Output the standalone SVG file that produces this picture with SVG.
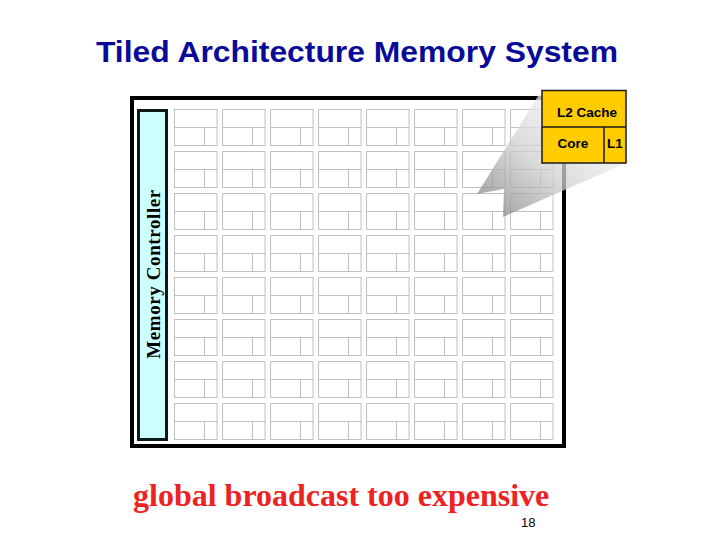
<svg xmlns="http://www.w3.org/2000/svg" xmlns:xlink="http://www.w3.org/1999/xlink" width="720" height="540" viewBox="0 0 720 540">
<style>
.tile{fill:#ffffff;stroke:#c0c0c0;stroke-width:1}
.tl{stroke:#c0c0c0;stroke-width:1}
.box{fill:#ffcc00;stroke:#1a1a1a;stroke-width:1.5}
.bt{font-family:"Liberation Sans",Arial,sans-serif;font-weight:bold;font-size:13.5px;fill:#000;text-anchor:middle}
</style>
<defs>
<g id="t">
<rect class="tile" x="0.5" y="0.5" width="42.5" height="36"/>
<line class="tl" x1="0.5" y1="18.5" x2="43" y2="18.5"/>
<line class="tl" x1="30.5" y1="18.5" x2="30.5" y2="36.5"/>
</g>
<linearGradient id="wg" gradientUnits="userSpaceOnUse" x1="500" y1="215" x2="585" y2="115">
<stop offset="0" stop-color="#8a8a8a"/>
<stop offset="0.5" stop-color="#d0d0d0"/>
<stop offset="1" stop-color="#f6f6f6"/>
</linearGradient>
</defs>
<rect width="720" height="540" fill="#ffffff"/>
<text x="96" y="62" textLength="522" lengthAdjust="spacingAndGlyphs" font-family="'Liberation Sans',Arial,sans-serif" font-weight="bold" font-size="30" fill="#0a0a99">Tiled Architecture Memory System</text>
<g id="frame">
<rect x="132" y="98" width="432" height="348" fill="#ffffff" stroke="#000000" stroke-width="4"/>
</g>
<g id="memory-controller">
<rect x="138.5" y="110.5" width="28" height="329" fill="#ccffff" stroke="#0a1a1a" stroke-width="3"/>
<text transform="translate(160,274) rotate(-90)" text-anchor="middle" font-family="'Liberation Serif','Times New Roman',serif" font-weight="bold" font-size="19" letter-spacing="0.6" fill="#000">Memory Controller</text>
</g>
<g id="tiles">
<use xlink:href="#t" x="174" y="109"/><use xlink:href="#t" x="222" y="109"/><use xlink:href="#t" x="270" y="109"/><use xlink:href="#t" x="318" y="109"/><use xlink:href="#t" x="366" y="109"/><use xlink:href="#t" x="414" y="109"/><use xlink:href="#t" x="462" y="109"/><use xlink:href="#t" x="510" y="109"/>
<use xlink:href="#t" x="174" y="151"/><use xlink:href="#t" x="222" y="151"/><use xlink:href="#t" x="270" y="151"/><use xlink:href="#t" x="318" y="151"/><use xlink:href="#t" x="366" y="151"/><use xlink:href="#t" x="414" y="151"/><use xlink:href="#t" x="462" y="151"/><use xlink:href="#t" x="510" y="151"/>
<use xlink:href="#t" x="174" y="193"/><use xlink:href="#t" x="222" y="193"/><use xlink:href="#t" x="270" y="193"/><use xlink:href="#t" x="318" y="193"/><use xlink:href="#t" x="366" y="193"/><use xlink:href="#t" x="414" y="193"/><use xlink:href="#t" x="462" y="193"/><use xlink:href="#t" x="510" y="193"/>
<use xlink:href="#t" x="174" y="235"/><use xlink:href="#t" x="222" y="235"/><use xlink:href="#t" x="270" y="235"/><use xlink:href="#t" x="318" y="235"/><use xlink:href="#t" x="366" y="235"/><use xlink:href="#t" x="414" y="235"/><use xlink:href="#t" x="462" y="235"/><use xlink:href="#t" x="510" y="235"/>
<use xlink:href="#t" x="174" y="277"/><use xlink:href="#t" x="222" y="277"/><use xlink:href="#t" x="270" y="277"/><use xlink:href="#t" x="318" y="277"/><use xlink:href="#t" x="366" y="277"/><use xlink:href="#t" x="414" y="277"/><use xlink:href="#t" x="462" y="277"/><use xlink:href="#t" x="510" y="277"/>
<use xlink:href="#t" x="174" y="319"/><use xlink:href="#t" x="222" y="319"/><use xlink:href="#t" x="270" y="319"/><use xlink:href="#t" x="318" y="319"/><use xlink:href="#t" x="366" y="319"/><use xlink:href="#t" x="414" y="319"/><use xlink:href="#t" x="462" y="319"/><use xlink:href="#t" x="510" y="319"/>
<use xlink:href="#t" x="174" y="361"/><use xlink:href="#t" x="222" y="361"/><use xlink:href="#t" x="270" y="361"/><use xlink:href="#t" x="318" y="361"/><use xlink:href="#t" x="366" y="361"/><use xlink:href="#t" x="414" y="361"/><use xlink:href="#t" x="462" y="361"/><use xlink:href="#t" x="510" y="361"/>
<use xlink:href="#t" x="174" y="403"/><use xlink:href="#t" x="222" y="403"/><use xlink:href="#t" x="270" y="403"/><use xlink:href="#t" x="318" y="403"/><use xlink:href="#t" x="366" y="403"/><use xlink:href="#t" x="414" y="403"/><use xlink:href="#t" x="462" y="403"/><use xlink:href="#t" x="510" y="403"/>
</g>
<g id="zoom-wedge">
<polygon points="540,93 477,194 504,189 503,217 626,163 560,120" fill="url(#wg)" fill-opacity="0.75"/>
</g>
<g id="tile-detail">
<rect class="box" x="542" y="90.5" width="84" height="72.5"/>
<line x1="542" y1="127" x2="626" y2="127" stroke="#1a1a1a" stroke-width="1.5"/>
<line x1="604" y1="127" x2="604" y2="163" stroke="#1a1a1a" stroke-width="1.5"/>
<text class="bt" x="587" y="117">L2 Cache</text>
<text class="bt" x="573" y="148">Core</text>
<text class="bt" x="615" y="148">L1</text>
</g>
<text x="133" y="506" font-family="'Liberation Serif','Times New Roman',serif" font-weight="bold" font-size="32" fill="#ee2222">global broadcast too expensive</text>
<text x="521" y="527" font-family="'Liberation Sans',Arial,sans-serif" font-size="13" fill="#000">18</text>
</svg>
